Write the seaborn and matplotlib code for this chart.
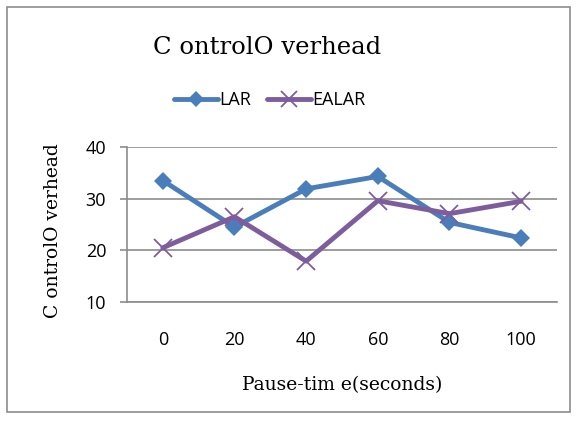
import matplotlib
matplotlib.use("Agg")
import matplotlib.pyplot as plt
import seaborn as sns
import pandas as pd
from matplotlib.patches import Rectangle
from matplotlib.lines import Line2D

categories = ["0", "20", "40", "60", "80", "100"]
lar = [33.5, 24.5, 31.9, 34.3, 25.4, 22.4]
ealar = [20.5, 26.5, 17.9, 29.6, 27.1, 29.5]
yticks = [10, 20, 30, 40]

sns.set_theme(style="white")
plt.rcParams['font.family'] = ['Open Sans', 'DejaVu Sans']

pos = list(range(len(categories)))
df_lar = pd.DataFrame({"pos": pos, "value": lar})
df_ealar = pd.DataFrame({"pos": pos, "value": ealar})

fig = plt.figure(figsize=(5.78, 4.26), dpi=100)
ax = fig.add_axes([127/578, 1 - 302/426, (557-127)/578, (302-147)/426])

c_lar = "#4A7EBB"
c_ealar = "#7E5D9D"
sns.lineplot(data=df_lar, x="pos", y="value", color=c_lar, marker="D",
             markersize=9, markeredgewidth=0, linewidth=3.5, ax=ax, zorder=3)
sns.lineplot(data=df_ealar, x="pos", y="value", color=c_ealar, marker="x",
             markersize=13, markeredgewidth=1.3, markeredgecolor=c_ealar,
             linewidth=3.5, ax=ax, zorder=3)

ax.set_xlim(-0.5, len(categories) - 0.5)
ax.set_ylim(10, 40)
ax.set_yticks(yticks)
ax.set_xticks(pos)
ax.set_xticklabels(categories)
ax.grid(axis="y", color="#8C8C8C", linewidth=1.2)
ax.set_axisbelow(True)
for s in ["top", "right"]:
    ax.spines[s].set_visible(False)
for s in ["left", "bottom"]:
    ax.spines[s].set_color("#8C8C8C")
    ax.spines[s].set_linewidth(1.2)
ax.tick_params(axis="y", length=5, color="#8C8C8C", width=1.2, labelsize=13,
               pad=10, left=True, labelcolor="black")
ax.tick_params(axis="x", length=0, labelsize=13, pad=21, labelcolor="black")
ax.set_xlabel("")
ax.set_ylabel("")

serif = ["DejaVu Serif", "Liberation Serif"]
fig.text(267/578, 1 - 47/426, "C ontrolO verhead", ha="center", va="center",
         fontsize=17.5, family=serif, color="black")
fig.text(342/578, 1 - 385/426, "Pause-tim e(seconds)", ha="center", va="center",
         fontsize=13.5, family=serif, color="black")
fig.text(53/578, 1 - 231/426, "C ontrolO verhead", ha="center", va="center",
         fontsize=13.5, family=serif, rotation=90, color="black")

handles = [Line2D([0], [0], color=c_lar, lw=3.5, marker="D", markersize=8, markeredgewidth=0),
           Line2D([0], [0], color=c_ealar, lw=3.5, marker="x", markersize=11, markeredgewidth=1.3)]
fig.legend(handles, ["LAR", "EALAR"], loc="center", bbox_to_anchor=(270/578, 1 - 100/426),
           ncol=2, frameon=False, fontsize=13, handlelength=2.4, handletextpad=0.1,
           columnspacing=0.9, labelcolor="black")

fig.patches.append(Rectangle((7/578, 1 - 412/426), (570-7)/578, (412-7)/426,
                             transform=fig.transFigure, fill=False,
                             edgecolor="#8C8C8C", linewidth=1.2))

fig.savefig("out.png", dpi=100)
